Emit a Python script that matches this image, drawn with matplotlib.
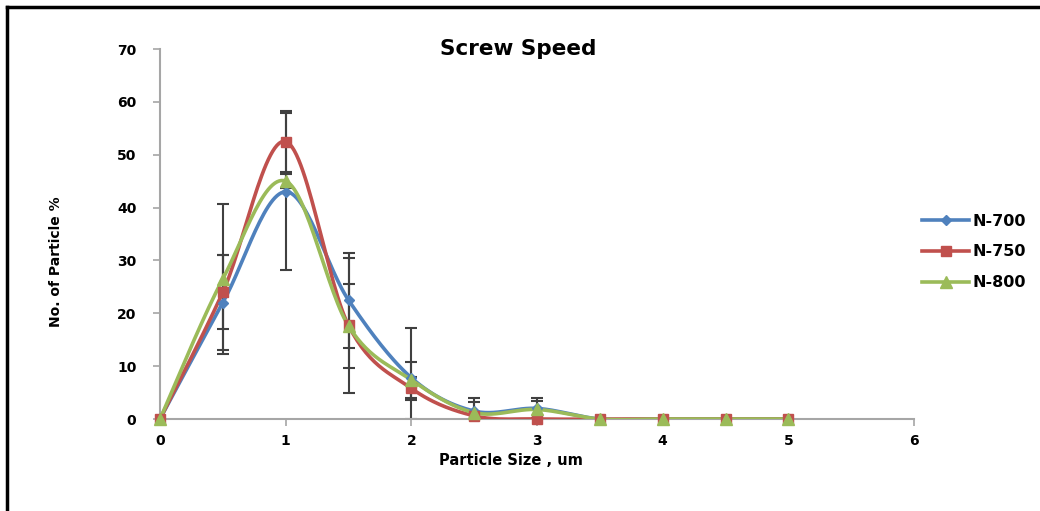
import numpy as np
import matplotlib
matplotlib.use("Agg")
import matplotlib.pyplot as plt
from matplotlib.lines import Line2D

x_vals = [0, 0.5, 1, 1.5, 2, 2.5, 3, 3.5, 4, 4.5, 5]
n700 = [0, 22, 43, 22.5, 7.8, 1.5, 2.0, 0, 0, 0, 0]
n750 = [0, 24, 52.5, 17.7, 5.8, 0.6, 0, 0, 0, 0, 0]
n800 = [0, 26.5, 45, 17.6, 7.4, 1.2, 1.8, 0, 0, 0, 0]
err700 = [0, 9, 14.8, 9, 9.4, 2.5, 2.0, 0, 0, 0, 0]
err750 = [0, 7, 5.8, 12.8, 2.2, 0, 0, 0, 0, 0, 0]
err800 = [0, 14.2, 1.3, 7.9, 3.4, 2.0, 1.6, 0, 0, 0, 0]
labels = ["N-700", "N-750", "N-800"]
colors = ["#4F81BD", "#C0504D", "#9BBB59"]
markers = ["D", "s", "^"]
msizes = [5, 7, 8]


def catmull(xs, ys, n=30):
    xs = np.asarray(xs, float); ys = np.asarray(ys, float)
    px = np.concatenate([[xs[0]], xs, [xs[-1]]])
    py = np.concatenate([[ys[0]], ys, [ys[-1]]])
    outx, outy = [], []
    t = np.linspace(0, 1, n)
    for i in range(1, len(px) - 2):
        p0 = np.array([px[i], py[i]])
        p3 = np.array([px[i + 1], py[i + 1]])
        c1 = p0 + (np.array([px[i + 1], py[i + 1]]) - np.array([px[i - 1], py[i - 1]])) / 6
        c2 = p3 - (np.array([px[i + 2], py[i + 2]]) - np.array([px[i], py[i]])) / 6
        b = ((1 - t) ** 3)[:, None] * p0 + (3 * (1 - t) ** 2 * t)[:, None] * c1 + \
            (3 * (1 - t) * t ** 2)[:, None] * c2 + (t ** 3)[:, None] * p3
        outx.extend(b[:, 0]); outy.extend(b[:, 1])
    return np.array(outx), np.array(outy)


fig = plt.figure(figsize=(10.4, 5.11), dpi=100)
ax = fig.add_axes([160 / 1040, 1 - 419 / 511, (914 - 160) / 1040, (419 - 49) / 511])

series = [n700, n750, n800]
errs = [err700, err750, err800]
for ys, er in zip(series, errs):
    xe = [x for x, e in zip(x_vals, er) if e > 0]
    ye = [y for y, e in zip(ys, er) if e > 0]
    ee = [e for e in er if e > 0]
    lo = [min(e, y) for y, e in zip(ye, ee)]
    ax.errorbar(xe, ye, yerr=[lo, ee], fmt="none", ecolor="#404040",
                elinewidth=1.5, capsize=4, capthick=1.5, zorder=2)

for ys, c, m, ms, lab in zip(series, colors, markers, msizes, labels):
    sx, sy = catmull(x_vals, ys)
    ax.plot(sx, sy, color=c, lw=2.6, zorder=3, solid_capstyle="round")
    ax.plot(x_vals, ys, linestyle="none", marker=m, ms=ms, color=c,
            markeredgecolor=c, zorder=4, clip_on=False)

ax.set_xlim(0, 6)
ax.set_ylim(0, 70)
ax.set_xticks(range(0, 7))
ax.set_yticks(range(0, 71, 10))
for s in ["top", "right"]:
    ax.spines[s].set_visible(False)
for s in ["left", "bottom"]:
    ax.spines[s].set_color("#A6A6A6")
    ax.spines[s].set_linewidth(1.5)
ax.tick_params(axis="both", direction="out", length=5, width=1.2, color="#A6A6A6",
               labelsize=10, pad=6)
for lbl in ax.get_xticklabels() + ax.get_yticklabels():
    lbl.set_fontweight("bold")
ax.tick_params(axis="y", pad=12)

fig.text(518 / 1040, 1 - 49 / 511, "Screw Speed", fontsize=15.5, fontweight="bold",
         ha="center", va="center")
ax.set_xlabel("Particle Size , um", fontsize=10.5, fontweight="bold")
ax.xaxis.set_label_coords((511 - 160) / 754, -(460 - 419) / 370)
ax.xaxis.label.set_va("center")
ax.set_ylabel("No. of Particle %", fontsize=10,
              fontweight="bold", family=["Liberation Sans Narrow", "DejaVu Sans"])
ax.yaxis.set_label_coords(-(160 - 56) / 754, (419 - 262) / 370)
ax.yaxis.label.set_va("center")

handles = [Line2D([0], [0], color=c, lw=2.6, marker=m, ms=ms, markeredgecolor=c)
           for c, m, ms in zip(colors, markers, msizes)]
leg = fig.legend(handles, labels, loc="center left", bbox_to_anchor=(908 / 1040, 1 - 252 / 511),
                 frameon=False, handlelength=2.9, labelspacing=1.0,
                 prop={"weight": "bold", "size": 11.5}, handletextpad=0.25)

fig.add_artist(Line2D([7 / 1040, 7 / 1040], [0, 1 - 7 / 511], color="black", lw=2.5,
                      transform=fig.transFigure))
fig.add_artist(Line2D([7 / 1040, 1], [1 - 7 / 511, 1 - 7 / 511], color="black", lw=2.5,
                      transform=fig.transFigure))

fig.savefig("out.png", dpi=100)
